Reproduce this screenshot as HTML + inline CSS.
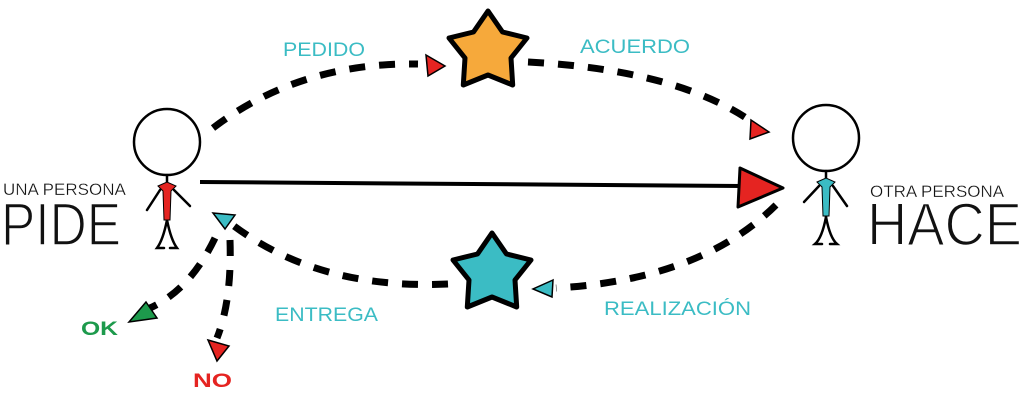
<!DOCTYPE html>
<html><head><meta charset="utf-8"><style>
html,body{margin:0;padding:0;background:#fff;width:1024px;height:410px;overflow:hidden}
svg{display:block}
.t{font-family:"Liberation Sans",sans-serif}
</style></head><body>
<svg width="1024" height="410" viewBox="0 0 1024 410" xmlns="http://www.w3.org/2000/svg">
<defs>
<polygon id="star" points="0,-40 14.5,-19 39,-13 23,7 24.7,34 0,24 -24.7,34 -23,7 -39,-13 -14.5,-19"/>
</defs>
<g fill="none" stroke="#000" stroke-width="7" stroke-dasharray="16 14">
<path d="M213,128 Q300,62 418,64"/>
<path d="M528,62 Q680,70 755,124"/>
<path d="M776,205 Q700,280 556,288"/>
<path d="M448,284 Q320,290 234,226"/>
<path d="M215,238 Q190,290 150,308"/>
<path d="M230,240 Q232,300 217,338"/>
</g>
<line x1="200" y1="182" x2="742" y2="186" stroke="#000" stroke-width="4"/>
<polygon points="740,168 783,188 738,207" fill="#e52421" stroke="#000" stroke-width="3" stroke-linejoin="round"/>
<polygon points="426,55 445,66 428,76" fill="#e52421" stroke="#000" stroke-width="1.5"/>
<polygon points="751,120 769,132 750,139" fill="#e52421" stroke="#000" stroke-width="1.5"/>
<polygon points="553,280 533,289 552,297" fill="#3bbcc4" stroke="#000" stroke-width="1.5"/>
<polygon points="213,213 235,215 225,229" fill="#3bbcc4" stroke="#000" stroke-width="1.5"/>
<polygon points="146,302 157,318 129,322" fill="#1d9a4c" stroke="#000" stroke-width="1.5"/>
<polygon points="208,340 229,346 217,361" fill="#e52421" stroke="#000" stroke-width="1.5"/>
<use href="#star" transform="translate(488,51)" fill="#f6a93b" stroke="#000" stroke-width="5" stroke-linejoin="round"/>
<use href="#star" transform="translate(492,273)" fill="#3bbcc4" stroke="#000" stroke-width="5" stroke-linejoin="round"/>
<g stroke="#000" stroke-width="2.5" fill="none" stroke-linecap="round">
<circle cx="167" cy="142" r="33"/>
<line x1="167" y1="175" x2="167" y2="220"/>
<path d="M160,190 L147,210 M174,190 L190,206"/>
<path d="M167,220 Q163,240 157,248 L164,248 M167,220 Q171,240 177,248 L170,248"/>
<circle cx="826" cy="138" r="33"/>
<line x1="826" y1="171" x2="826" y2="217"/>
<path d="M819,186 L804,202 M833,186 L847,206"/>
<path d="M826,217 Q822,238 815,244 L822,244 M826,217 Q830,238 837,244 L830,244"/>
</g>
<path d="M158,186 L167,182 L176,186 L171,191 L170,220 L164,220 L163,191 Z" fill="#e52421" stroke="#000" stroke-width="1"/>
<path d="M817,182 L826,178 L835,182 L830,187 L829,216 L823,216 L822,187 Z" fill="#3bbcc4" stroke="#000" stroke-width="1"/>
<text class="t" x="3" y="195" font-size="17" fill="#111" stroke="#fff" stroke-width="0.3">UNA PERSONA</text>
<text class="t" x="1" y="245" font-size="60" fill="#111" stroke="#fff" stroke-width="1.6" textLength="120" lengthAdjust="spacingAndGlyphs">PIDE</text>
<text class="t" x="870" y="197" font-size="17" fill="#111" stroke="#fff" stroke-width="0.3">OTRA PERSONA</text>
<text class="t" x="867" y="245" font-size="60" fill="#111" stroke="#fff" stroke-width="1.6" textLength="155" lengthAdjust="spacingAndGlyphs">HACE</text>
<g class="t" font-size="19" fill="#3bbcc4">
<text x="283" y="56" textLength="82" lengthAdjust="spacingAndGlyphs">PEDIDO</text>
<text x="580" y="53" textLength="110" lengthAdjust="spacingAndGlyphs">ACUERDO</text>
<text x="275" y="321" textLength="103" lengthAdjust="spacingAndGlyphs">ENTREGA</text>
<text x="604" y="315" textLength="147" lengthAdjust="spacingAndGlyphs">REALIZACIÓN</text>
</g>
<text class="t" x="81" y="335" font-size="19" font-weight="bold" fill="#1d9a4c" textLength="37" lengthAdjust="spacingAndGlyphs">OK</text>
<text class="t" x="193" y="387" font-size="19" font-weight="bold" fill="#e52421" textLength="39" lengthAdjust="spacingAndGlyphs">NO</text>
</svg>
</body></html>
